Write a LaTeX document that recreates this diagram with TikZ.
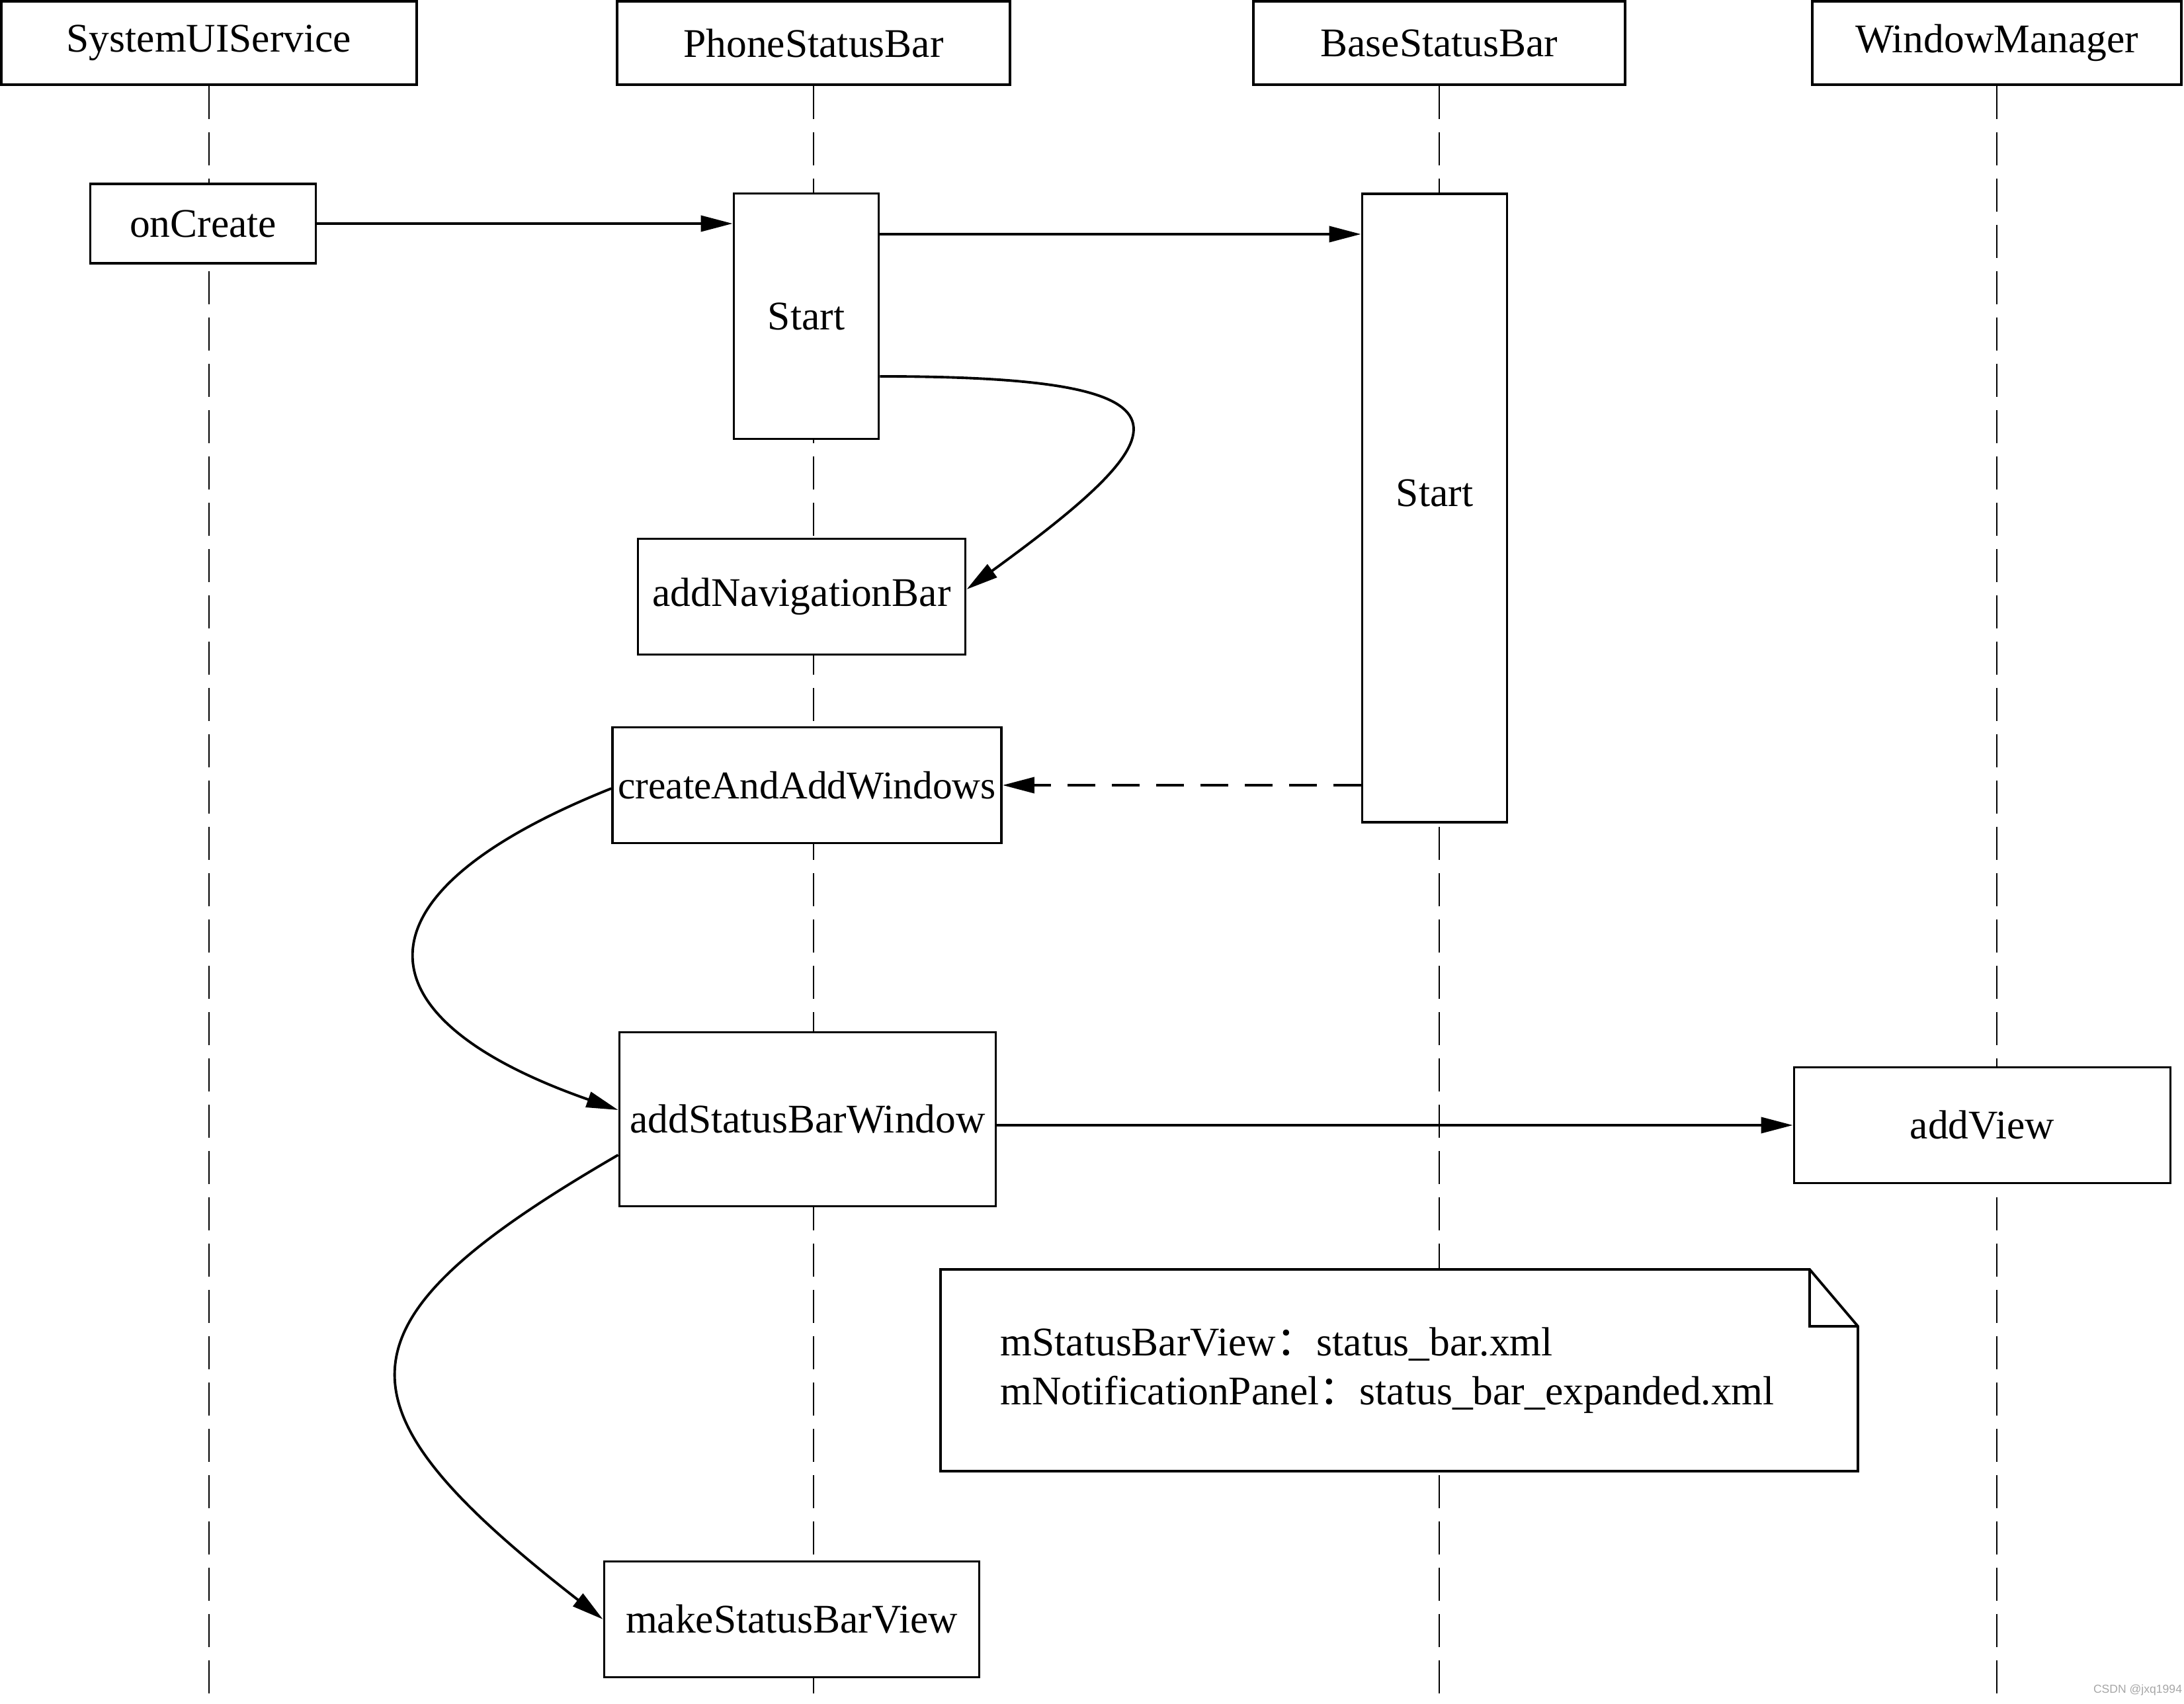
\documentclass[tikz,border=0pt]{standalone}
\usepackage{fontspec}
\setmainfont{Liberation Serif}
\newfontfamily\cjk{Noto Sans CJK SC}
\newfontfamily\wmfont{Liberation Sans}
\usetikzlibrary{arrows.meta}

\begin{document}
\begin{tikzpicture}[>={Triangle[length=4.8mm,width=2.4mm]}, font=\fontsize{17.5}{21}\selectfont]
    \tikzstyle{object}=[draw=black,line width=1.1pt,fill=white,minimum height=1.26cm,inner sep=0pt]
    \tikzstyle{activation}=[draw=black,line width=1.1pt,fill=white,inner sep=0pt,minimum height=1.75cm]
    \tikzstyle{lifeline}=[line width=0.7pt,dash pattern=on 0.5cm off 0.2cm]
    \tikzstyle{call}=[line width=1.1pt,->]
    \tikzstyle{reply}=[line width=1.1pt,->,dash pattern=on 0.42cm off 0.25cm]

    \useasboundingbox (0,0) rectangle (33.02,-25.76);
    \coordinate (bottom) at (0,-25.76);

    \node[object,minimum width=6.28cm] at (3.16,-0.65) (sys) {SystemUIService};
    \node[object,minimum width=5.94cm] at (12.30,-0.65) (phone) {PhoneStatusBar};
    \node[object,minimum width=5.62cm] at (21.76,-0.65) (base) {BaseStatusBar};
    \node[object,minimum width=5.58cm] at (30.19,-0.65) (wm) {WindowManager};

    \draw[lifeline] (sys.south) -- (sys.south |- bottom);
    \draw[lifeline] (phone.south) -- (phone.south |- bottom);
    \draw[lifeline] (base.south) -- (base.south |- bottom);
    \draw[lifeline] (wm.south) -- (wm.south |- bottom);

    \node[activation,minimum width=3.41cm,minimum height=1.20cm] at (3.07,-3.38) (onCreate) {onCreate};
    \node[activation,minimum width=2.19cm,minimum height=3.71cm] at (12.19,-4.78) (startP) {Start};
    \node[activation,minimum width=2.19cm,minimum height=9.50cm] at (21.69,-7.68) (startB) {\raisebox{0.45cm}{Start}};
    \node[activation,minimum width=4.95cm] at (12.12,-9.02) (addNav) {addNavigationBar};
    \node[activation,minimum width=5.88cm] at (12.20,-11.87) (createAdd) {\fontsize{16.9}{21}\selectfont createAndAddWindows};
    \node[activation,minimum width=5.69cm,minimum height=2.63cm] at (12.21,-16.92) (addSBW) {addStatusBarWindow};
    \node[activation,minimum width=5.69cm] at (29.97,-17.01) (addView) {addView};
    \node[activation,minimum width=5.67cm] at (11.97,-24.48) (makeSBV) {makeStatusBarView};

    \draw[line width=1.1pt,fill=white] (14.22,-19.19) -- (27.36,-19.19) -- (28.09,-20.05) -- (28.09,-22.24) -- (14.22,-22.24) -- cycle;
    \draw[line width=1.1pt] (27.36,-19.19) -- (27.36,-20.05) -- (28.09,-20.05);
    \node[anchor=west,align=left,inner sep=0pt] at (15.12,-20.72) (note) {mStatusBarView{\cjk ：}status\_bar.xml\\mNotificationPanel{\cjk ：}status\_bar\_expanded.xml};

    \draw[call] (onCreate.east) -- (onCreate.east -| startP.west);
    \draw[call] (startP.east |- 0,-3.54) -- (startB.west |- 0,-3.54);
    \draw[call] (startP.east |- 0,-5.69) .. controls +(5.0,0) and +(3.3,2.4) .. (addNav.east |- 0,-8.91);
    \draw[reply] (startB.west |- createAdd.east) -- (createAdd.east);
    \draw[call] (createAdd.west |- 0,-11.92) .. controls +(-4.0,-1.6) and +(-4.0,1.4) .. (addSBW.west |- 0,-16.78);
    \draw[call] (addView.west -| addSBW.east) -- (addView.west);
    \draw[call] (addSBW.west |- 0,-17.46) .. controls +(-4.4,-2.55) and +(-4.17,3.25) .. (makeSBV.west);

    \node[text=gray!70,font=\wmfont\fontsize{5}{6}\selectfont] at (32.32,-25.55) (mark) {CSDN @jxq1994};
\end{tikzpicture}
\end{document}
